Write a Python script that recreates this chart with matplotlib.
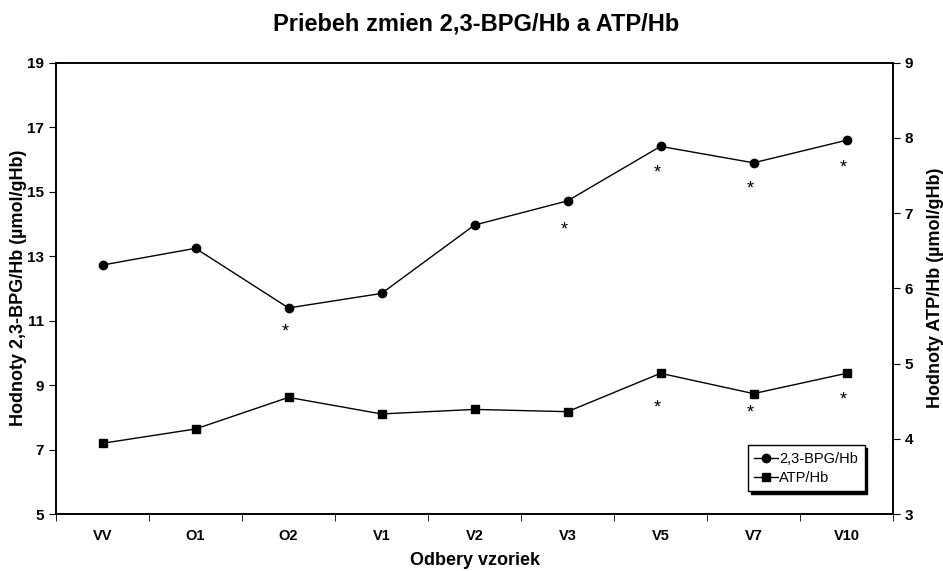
import numpy as np
import matplotlib
import matplotlib.pyplot as plt

matplotlib.rcParams['font.family'] = ['Liberation Sans', 'DejaVu Sans']

# data
odbery = ["VV", "O1", "O2", "V1", "V2", "V3", "V5", "V7", "V10"]
bpg = [12.72, 13.24, 11.39, 11.84, 13.96, 14.71, 16.40, 15.89, 16.59]
atp = [3.94, 4.13, 4.55, 4.33, 4.39, 4.36, 4.87, 4.60, 4.87]
bpg_sig = ["O2", "V3", "V5", "V7", "V10"]
atp_sig = ["V5", "V7", "V10"]
# posun hviezdicky pod bodom (v bodoch)
bpg_sig_off = [-11, -15, -13, -13, -14]
atp_sig_off = [-19, -8, -13]

fig = plt.figure(figsize=(9.43, 5.71), dpi=100)
ax1 = fig.add_axes([0.0594, 0.0998, 0.8876, 0.7907])
ax2 = ax1.twinx()

x = np.arange(len(odbery))
l1, = ax1.plot(x, bpg, color='black', lw=1, marker='o', ms=6, label='2,3-BPG/Hb')
l2, = ax2.plot(x, atp, color='black', lw=1, marker='s', ms=6, label='ATP/Hb')

# hviezdicky pod bodmi
for name, off in zip(bpg_sig, bpg_sig_off):
    i = odbery.index(name)
    ax1.annotate('*', (x[i], bpg[i]), xytext=(-2, off), textcoords='offset points',
                 ha='center', va='top', fontsize=13)
for name, off in zip(atp_sig, atp_sig_off):
    i = odbery.index(name)
    ax2.annotate('*', (x[i], atp[i]), xytext=(-2, off), textcoords='offset points',
                 ha='center', va='top', fontsize=13)

ax1.set_xlim(-0.5, len(odbery) - 0.5)
ax1.set_ylim(5, 19)
ax1.set_yticks(np.arange(5, 20, 2))
ax2.set_ylim(3, 9)
ax2.set_yticks(np.arange(3, 10, 1))

ax1.set_xticks(x)
ax1.set_xticklabels(odbery, fontweight='bold', fontsize=10.5)
ax1.set_xticks(np.arange(-0.5, len(odbery), 1), minor=True)
ax1.tick_params(axis='x', which='major', length=0, pad=11)
ax1.tick_params(axis='x', which='minor', length=5, direction='out')
ax1.tick_params(axis='y', length=5, direction='out', labelsize=11)
ax2.tick_params(axis='y', length=5, direction='out', labelsize=11)
for lab in ax1.get_yticklabels() + ax2.get_yticklabels():
    lab.set_fontweight('bold')

for ax in (ax1, ax2):
    for s in ax.spines.values():
        s.set_linewidth(1.2)

ax1.set_xlabel('Odbery vzoriek', fontweight='bold', fontsize=13, labelpad=6)
ax1.set_ylabel('Hodnoty 2,3-BPG/Hb (µmol/gHb)', fontweight='bold', fontsize=13, labelpad=0)
ax2.set_ylabel('Hodnoty ATP/Hb (µmol/gHb)', fontweight='bold', fontsize=13, labelpad=10)

fig.suptitle('Priebeh zmien 2,3-BPG/Hb a ATP/Hb', fontweight='bold', fontsize=17, x=0.505, y=0.978)

leg = ax2.legend(handles=[l1, l2], loc='lower right', bbox_to_anchor=(0.966, 0.05),
                 borderaxespad=0, fontsize=10.5, handlelength=1.6, handletextpad=0.1,
                 borderpad=0.45, labelspacing=0.35, fancybox=False, edgecolor='black',
                 shadow={'color': 'black', 'alpha': 1}, framealpha=1)
leg.get_frame().set_linewidth(1)

fig.savefig('out.png', dpi=100)
